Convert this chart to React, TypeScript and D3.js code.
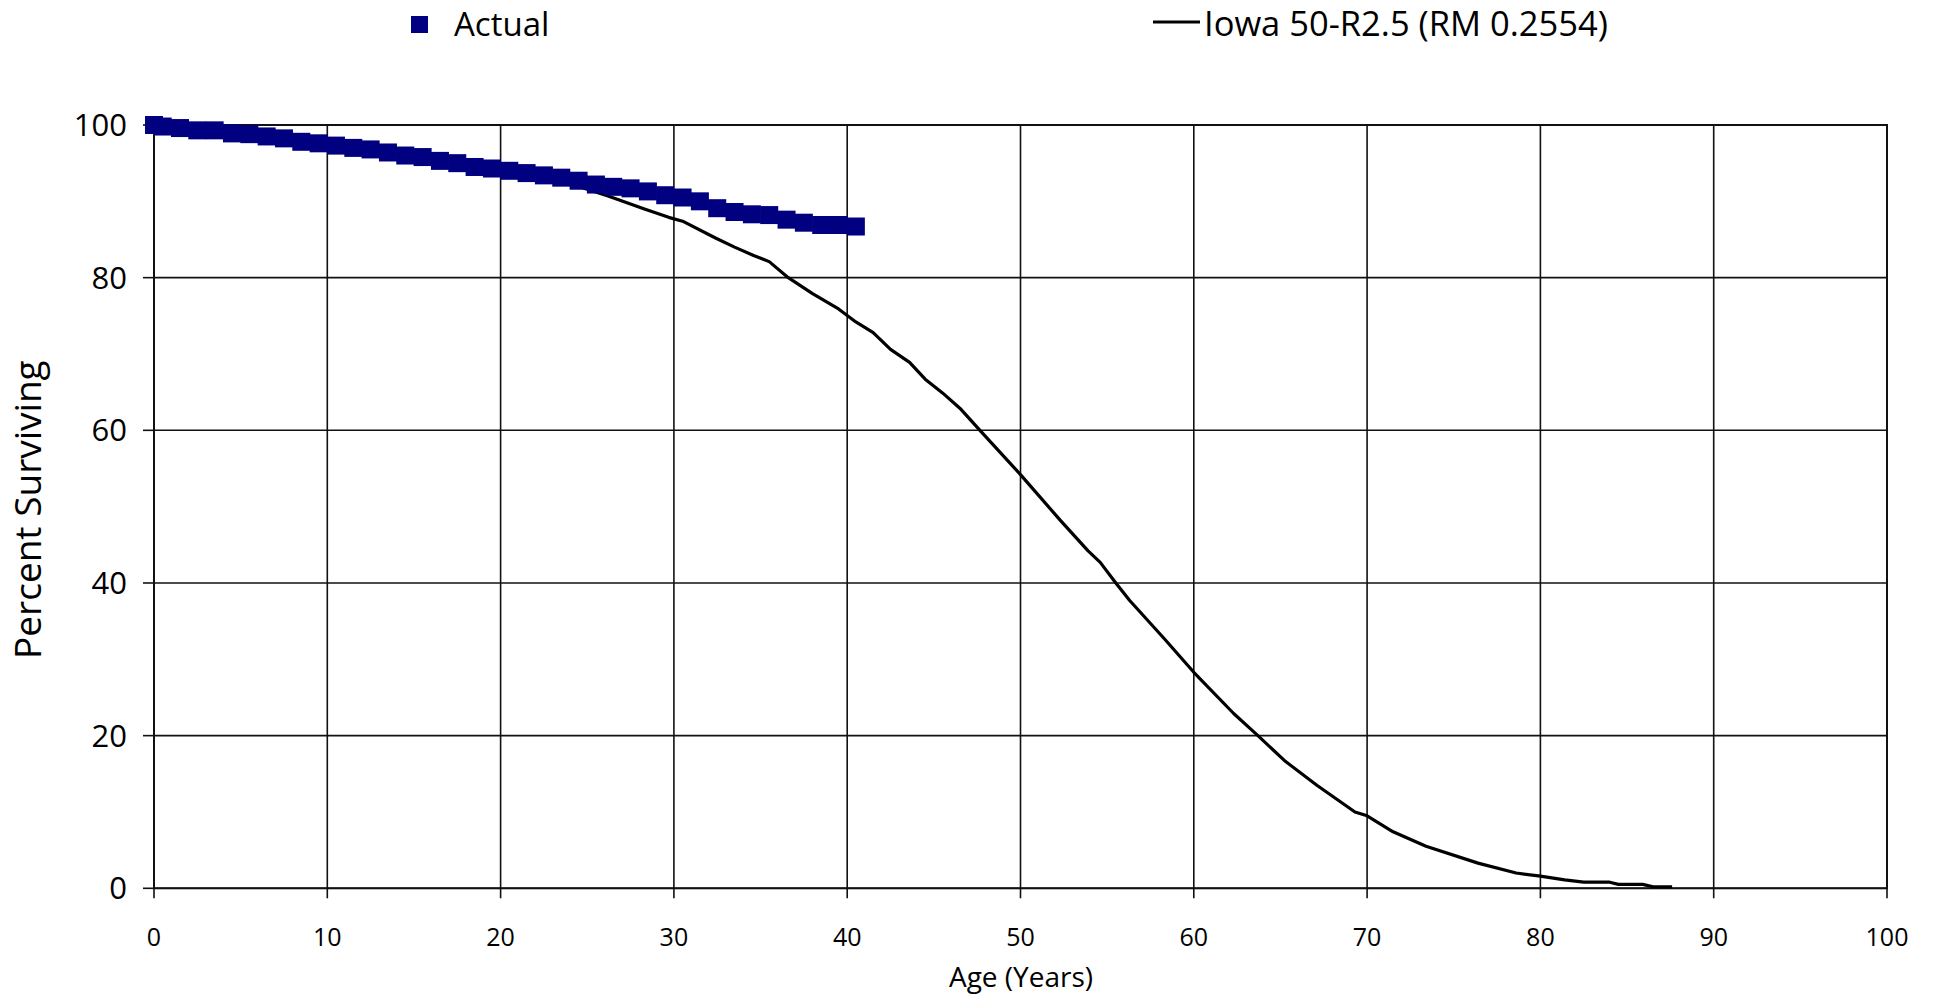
import React, { useEffect } from "react";
import * as d3 from "d3";

const ageTicks = [0, 10, 20, 30, 40, 50, 60, 70, 80, 90, 100];
const pctTicks = [0, 20, 40, 60, 80, 100];

const actualAges = [0, 0.5, 1.5, 2.5, 3.5, 4.5, 5.5, 6.5, 7.5, 8.5, 9.5, 10.5, 11.5, 12.5, 13.5, 14.5, 15.5, 16.5, 17.5, 18.5, 19.5, 20.5, 21.5, 22.5, 23.5, 24.5, 25.5, 26.5, 27.5, 28.5, 29.5, 30.5, 31.5, 32.5, 33.5, 34.5, 35.5, 36.5, 37.5, 38.5, 39.5, 40.5];
const actualPct = [100, 99.8, 99.6, 99.3, 99.3, 98.9, 98.8, 98.5, 98.25, 97.8, 97.6, 97.3, 97.0, 96.8, 96.4, 96.0, 95.8, 95.3, 95.0, 94.5, 94.3, 94.0, 93.7, 93.4, 93.1, 92.7, 92.2, 91.9, 91.7, 91.3, 90.8, 90.5, 90.0, 89.1, 88.6, 88.3, 88.2, 87.6, 87.2, 86.9, 86.9, 86.7];

const iowaAges = [0, 2, 4, 6, 8, 10, 12, 14, 16, 18, 20, 22, 24, 26.2, 28.3, 29.7, 30.5, 32.4, 33.5, 34.6, 35.5, 36.6, 38.0, 39.5, 40.5, 41.5, 42.5, 43.6, 44.5, 45.5, 46.5, 47.7, 50.0, 52.3, 53.9, 54.6, 55.5, 56.3, 58.3, 60.0, 62.3, 63.7, 65.3, 67.1, 69.3, 70.0, 71.5, 73.4, 76.4, 78.6, 80.0, 81.4, 82.5, 84.0, 84.5, 85.9, 86.5, 87.6];
const iowaPct = [100, 99.6, 99.1, 98.7, 98.3, 97.9, 97.4, 96.8, 96.1, 95.4, 94.5, 93.5, 92.3, 90.7, 89.0, 87.9, 87.4, 85.2, 84.0, 82.9, 82.1, 80.0, 77.9, 75.9, 74.2, 72.8, 70.6, 68.9, 66.7, 64.9, 62.9, 59.9, 54.2, 48.2, 44.2, 42.7, 40.0, 37.7, 32.7, 28.3, 22.9, 20.0, 16.6, 13.5, 10.0, 9.5, 7.4, 5.5, 3.3, 2.0, 1.6, 1.1, 0.8, 0.8, 0.52, 0.52, 0.2, 0.2];

const seriesNames = ["Actual", "Iowa 50-R2.5 (RM 0.2554)"];
const axisTitles = { x: "Age (Years)", y: "Percent Surviving" };

const W = 1933;
const H = 996;
const M = { left: 154, right: 1887, top: 125, bottom: 888.3 };
const FONT = "'Open Sans', 'Noto Sans', sans-serif";
const NAVY = "#000080";

export default function App() {
  useEffect(() => {
    document.body.style.margin = "0";
    document.body.style.overflow = "hidden";
  }, []);

  const x = d3.scaleLinear().domain([0, 100]).range([M.left, M.right]);
  const y = d3.scaleLinear().domain([0, 100]).range([M.bottom, M.top]);

  const iowaData = iowaAges.map((a, i) => [a, iowaPct[i]] as [number, number]);
  const line = d3
    .line<[number, number]>()
    .x((d) => x(d[0]))
    .y((d) => y(d[1]));

  const ms = 18;

  return (
    <svg width={W} height={H} style={{ display: "block", position: "absolute", left: 0, top: 0 }} fontFamily={FONT}>
      <rect x={0} y={0} width={W} height={H} fill="#fff" />
      {/* gridlines */}
      {ageTicks.map((t) => (
        <line key={"gx" + t} x1={x(t)} x2={x(t)} y1={M.top} y2={M.bottom} stroke="#111" strokeWidth={1.6} />
      ))}
      {pctTicks.map((t) => (
        <line key={"gy" + t} x1={M.left} x2={M.right} y1={y(t)} y2={y(t)} stroke="#111" strokeWidth={1.6} />
      ))}
      <rect x={M.left} y={M.top} width={M.right - M.left} height={M.bottom - M.top} fill="none" stroke="#111" strokeWidth={2} />
      {/* ticks */}
      {ageTicks.map((t) => (
        <line key={"tx" + t} x1={x(t)} x2={x(t)} y1={M.bottom} y2={M.bottom + 10} stroke="#111" strokeWidth={1.6} />
      ))}
      {pctTicks.map((t) => (
        <line key={"ty" + t} x1={M.left - 11} x2={M.left} y1={y(t)} y2={y(t)} stroke="#111" strokeWidth={1.6} />
      ))}
      {/* tick labels */}
      {ageTicks.map((t) => (
        <text key={"lx" + t} x={x(t)} y={946} textAnchor="middle" fontSize={25} fill="#000">
          {t}
        </text>
      ))}
      {pctTicks.map((t) => (
        <text key={"ly" + t} x={127} y={y(t) + 11} textAnchor="end" fontSize={31} fill="#000">
          {t}
        </text>
      ))}
      {/* axis titles */}
      <text x={1021} y={987} textAnchor="middle" fontSize={28} fill="#000">
        {axisTitles.x}
      </text>
      <text transform={`translate(41, ${(M.top + M.bottom) / 2 + 3}) rotate(-90)`} textAnchor="middle" fontSize={37} fill="#000">
        {axisTitles.y}
      </text>
      {/* Iowa curve */}
      <path d={line(iowaData) || ""} fill="none" stroke="#000" strokeWidth={3.2} strokeLinejoin="round" />
      {/* Actual markers */}
      {actualAges.map((a, i) => (
        <rect key={"m" + i} x={x(a) - ms / 2} y={y(actualPct[i]) - ms / 2} width={ms} height={ms} fill={NAVY} />
      ))}
      {/* legend */}
      <rect x={411} y={16} width={17} height={17} fill={NAVY} />
      <text x={454} y={36} fontSize={33} fill="#000">
        {seriesNames[0]}
      </text>
      <line x1={1153} x2={1200} y1={22} y2={22} stroke="#000" strokeWidth={3.2} />
      <text x={1204} y={36} fontSize={34.5} fill="#000">
        {seriesNames[1]}
      </text>
    </svg>
  );
}
